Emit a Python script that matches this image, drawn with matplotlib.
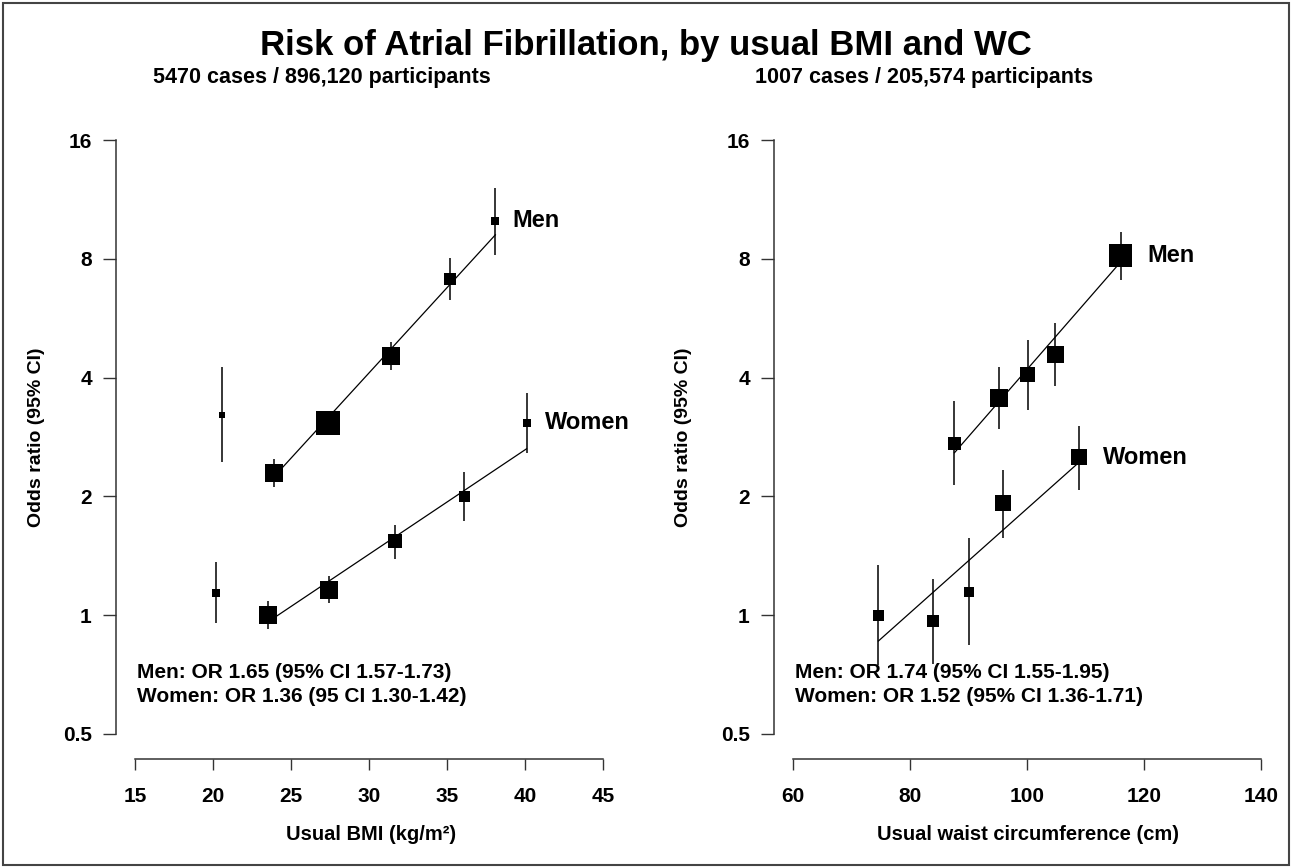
import matplotlib
matplotlib.use("Agg")
import matplotlib.pyplot as plt
from matplotlib.patches import Rectangle
from matplotlib.transforms import offset_copy

plt.rcParams['font.family'] = ['Liberation Sans', 'DejaVu Sans']
plt.rcParams['font.weight'] = 'bold'

# ---------------- data ----------------
# BMI panel
bmi_men_x = [20.6, 23.9, 27.4, 31.4, 35.2, 38.1]
bmi_men_or = [3.22, 2.29, 3.07, 4.54, 7.11, 9.98]
bmi_men_lo = [2.44, 2.11, 2.90, 4.17, 6.29, 8.19]
bmi_men_hi = [4.25, 2.49, 3.25, 4.91, 8.02, 12.1]
bmi_men_size = [6, 18, 24, 18, 12, 8]

bmi_women_x = [20.2, 23.5, 27.45, 31.65, 36.1, 40.1]
bmi_women_or = [1.14, 1.00, 1.16, 1.54, 2.00, 3.07]
bmi_women_lo = [0.956, 0.922, 1.075, 1.391, 1.733, 2.57]
bmi_women_hi = [1.36, 1.085, 1.258, 1.696, 2.30, 3.66]
bmi_women_size = [8, 18, 18, 14, 11, 8]

bmi_men_fit_x = [23.9, 38.1]
bmi_men_fit_or = [2.24, 9.2]
bmi_women_fit_x = [23.5, 40.1]
bmi_women_fit_or = [0.96, 2.64]

# Waist circumference panel
wc_men_x = [87.6, 95.2, 100.1, 104.8, 116.0]
wc_men_or = [2.73, 3.55, 4.07, 4.57, 8.14]
wc_men_lo = [2.14, 2.97, 3.31, 3.80, 7.07]
wc_men_hi = [3.49, 4.25, 4.99, 5.50, 9.38]
wc_men_size = [13, 18, 15, 17, 23]

wc_women_x = [74.6, 84.0, 90.0, 95.9, 108.9]
wc_women_or = [1.00, 0.968, 1.146, 1.924, 2.51]
wc_women_lo = [0.746, 0.754, 0.839, 1.57, 2.08]
wc_women_hi = [1.338, 1.238, 1.572, 2.33, 3.02]
wc_women_size = [11, 12, 10, 16, 16]

wc_men_fit_x = [87.6, 116.0]
wc_men_fit_or = [2.58, 7.85]
wc_women_fit_x = [74.6, 108.9]
wc_women_fit_or = [0.86, 2.44]

y_ticks = [0.5, 1, 2, 4, 8, 16]
y_ticklabels = ["0.5", "1", "2", "4", "8", "16"]
bmi_ticks = [15, 20, 25, 30, 35, 40, 45]
wc_ticks = [60, 80, 100, 120, 140]

title = "Risk of Atrial Fibrillation, by usual BMI and WC"
bmi_subtitle = "5470 cases / 896,120 participants"
wc_subtitle = "1007 cases / 205,574 participants"
bmi_note = ["Men: OR 1.65 (95% CI 1.57-1.73)", "Women: OR 1.36 (95 CI 1.30-1.42)"]
wc_note = ["Men: OR 1.74 (95% CI 1.55-1.95)", "Women: OR 1.52 (95% CI 1.36-1.71)"]

# ---------------- layout ----------------
W, H = 1291, 867
DPI = 100
fig = plt.figure(figsize=(W / DPI, H / DPI), dpi=DPI)
fig.patch.set_facecolor('white')

def px_axes(x0, x1, ytop, ybot):
    return fig.add_axes([x0 / W, (H - ybot) / H, (x1 - x0) / W, (ybot - ytop) / H])

ylim = (0.432, 16)
spine_col = '#333333'

def style_axes(ax, xlim, xticks, xbounds):
    ax.set_yscale('log', base=2)
    ax.set_xlim(*xlim)
    ax.set_ylim(*ylim)
    ax.set_yticks(y_ticks)
    ax.set_yticklabels(y_ticklabels, fontsize=15, fontweight='bold')
    ax.minorticks_off()
    ax.set_xticks(xticks)
    ax.set_xticklabels([str(t) for t in xticks], fontsize=15, fontweight='bold')
    for s in ['top', 'right']:
        ax.spines[s].set_visible(False)
    ax.spines['left'].set_bounds(0.5, 16)
    ax.spines['bottom'].set_bounds(xbounds[0], xbounds[1])
    for s in ['left', 'bottom']:
        ax.spines[s].set_color(spine_col)
        ax.spines[s].set_linewidth(1.1)
    ax.tick_params(axis='y', length=9.4, width=1.0, color=spine_col, pad=8)
    ax.tick_params(axis='x', length=8, width=1.0, color=spine_col, pad=12.5)
    ax.patch.set_visible(False)

def draw_series(ax, x, orr, lo, hi, size):
    ax.vlines(x, lo, hi, color='black', lw=1.1, zorder=2)
    ax.scatter(x, orr, marker='s', s=[(v * 0.72) ** 2 for v in size],
               color='black', linewidths=0, zorder=3)

def draw_fit(ax, x, orr):
    ax.plot(x, orr, color='black', lw=0.9, zorder=2.5)

def label_point(ax, x, y, text, dx):
    tr = offset_copy(ax.transData, fig=fig, x=dx, y=0, units='dots')
    ax.text(x, y, text, transform=tr, ha='left', va='center',
            fontsize=17, fontweight='bold')

note_fs = 15

# Left panel (BMI)
ax1 = px_axes(116, 603, 140, 759)
style_axes(ax1, (15 - 19 / 15.6, 45), bmi_ticks, (15, 45))
draw_fit(ax1, bmi_men_fit_x, bmi_men_fit_or)
draw_fit(ax1, bmi_women_fit_x, bmi_women_fit_or)
draw_series(ax1, bmi_men_x, bmi_men_or, bmi_men_lo, bmi_men_hi, bmi_men_size)
draw_series(ax1, bmi_women_x, bmi_women_or, bmi_women_lo, bmi_women_hi, bmi_women_size)
label_point(ax1, bmi_men_x[-1], bmi_men_or[-1], "Men", 17)
label_point(ax1, bmi_women_x[-1], bmi_women_or[-1], "Women", 18)
ax1.set_ylabel("Odds ratio (95% CI)", fontsize=14, fontweight='bold')
ax1.yaxis.set_label_coords((45 - 116) / 487, (759 - 437) / 619)
ax1.set_xlabel("Usual BMI (kg/m²)", fontsize=14.5, fontweight='bold', va='center')
ax1.xaxis.set_label_coords((371 - 116) / 487, (759 - 835) / 619)
ax1.text(137 / W, 1 - 673 / H, bmi_note[0], transform=fig.transFigure,
         fontsize=note_fs, fontweight='bold', ha='left', va='center')
ax1.text(137 / W, 1 - 696 / H, bmi_note[1], transform=fig.transFigure,
         fontsize=note_fs, fontweight='bold', ha='left', va='center')

# Right panel (WC)
ax2 = px_axes(774, 1261, 140, 759)
style_axes(ax2, (60 - 19 / 5.85, 140), wc_ticks, (60, 140))
draw_fit(ax2, wc_men_fit_x, wc_men_fit_or)
draw_fit(ax2, wc_women_fit_x, wc_women_fit_or)
draw_series(ax2, wc_men_x, wc_men_or, wc_men_lo, wc_men_hi, wc_men_size)
draw_series(ax2, wc_women_x, wc_women_or, wc_women_lo, wc_women_hi, wc_women_size)
label_point(ax2, wc_men_x[-1], wc_men_or[-1], "Men", 27)
label_point(ax2, wc_women_x[-1], wc_women_or[-1], "Women", 24)
ax2.set_ylabel("Odds ratio (95% CI)", fontsize=14, fontweight='bold')
ax2.yaxis.set_label_coords((692 - 774) / 487, (759 - 437) / 619)
ax2.set_xlabel("Usual waist circumference (cm)", fontsize=14.5, fontweight='bold', va='center')
ax2.xaxis.set_label_coords((1028 - 774) / 487, (759 - 835) / 619)
ax2.text(795 / W, 1 - 673 / H, wc_note[0], transform=fig.transFigure,
         fontsize=note_fs, fontweight='bold', ha='left', va='center')
ax2.text(795 / W, 1 - 696 / H, wc_note[1], transform=fig.transFigure,
         fontsize=note_fs, fontweight='bold', ha='left', va='center')

# Titles
fig.text(646 / W, 1 - 46 / H, title, ha='center', va='center',
         fontsize=25, fontweight='bold')
fig.text(322 / W, 1 - 77 / H, bmi_subtitle, ha='center', va='center',
         fontsize=15.5, fontweight='bold')
fig.text(924 / W, 1 - 77 / H, wc_subtitle, ha='center', va='center',
         fontsize=15.5, fontweight='bold')

# Outer frame
fig.patches.append(Rectangle((2.5 / W, 2.5 / H), (W - 5) / W, (H - 5) / H,
                             transform=fig.transFigure, fill=False,
                             edgecolor='#444444', linewidth=1.5))

fig.savefig("out.png", dpi=DPI)
